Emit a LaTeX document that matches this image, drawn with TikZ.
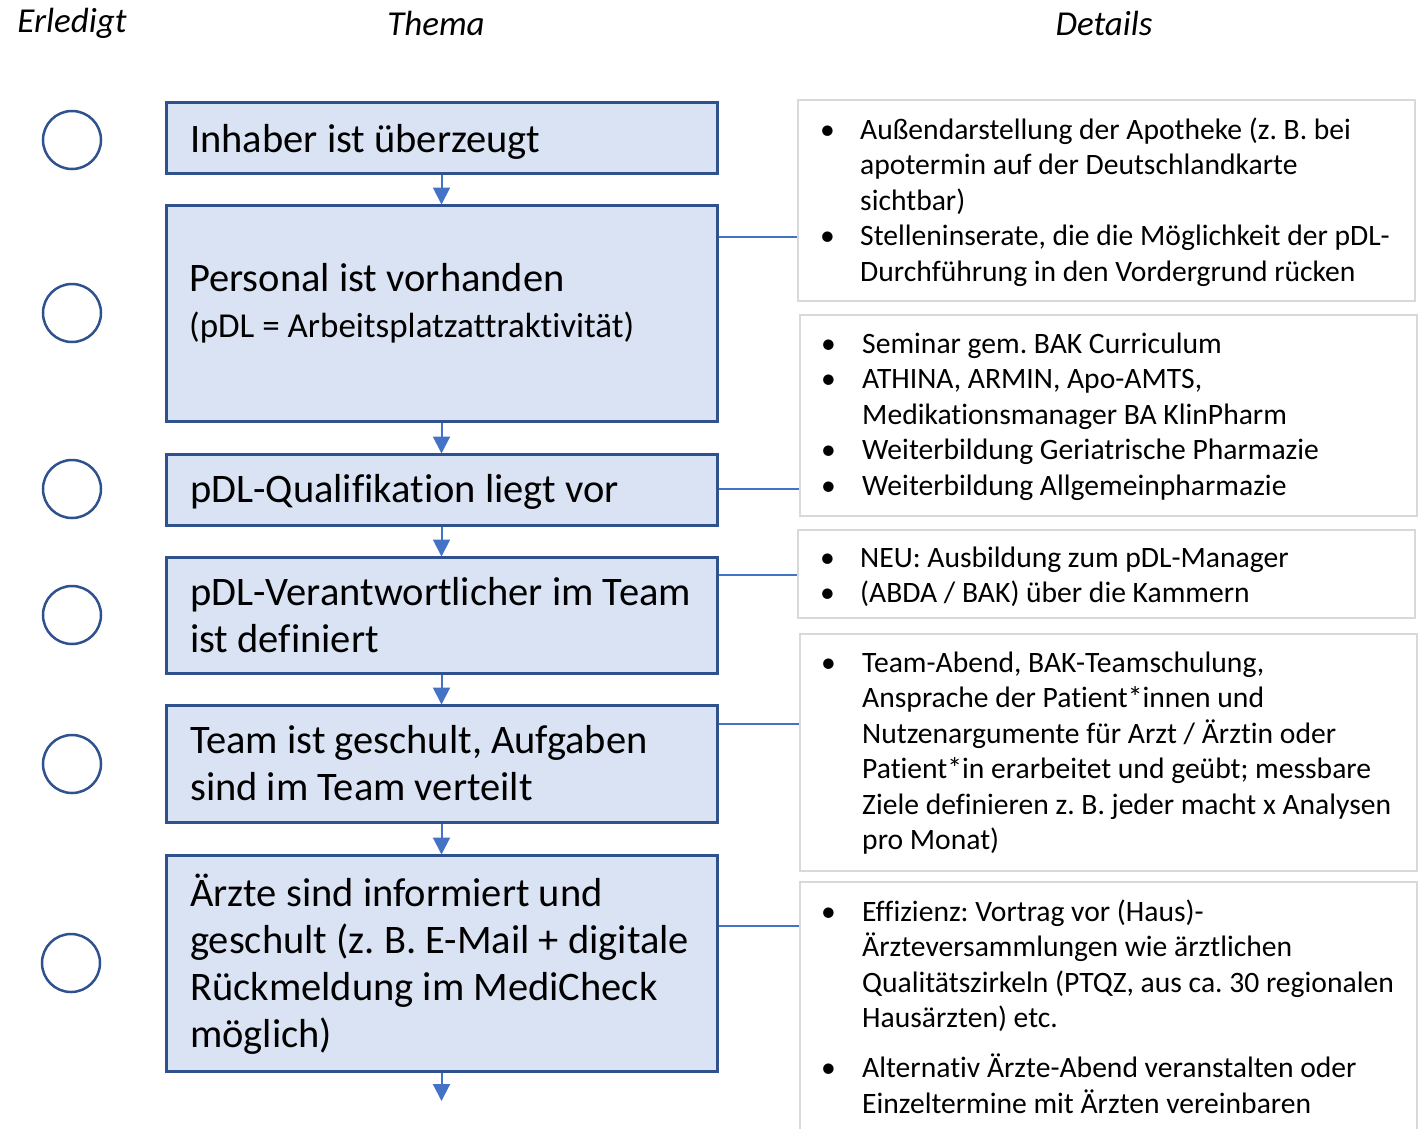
\documentclass[tikz,border=0pt]{standalone}
\usepackage{fontspec}
\setmainfont{Carlito}[Ligatures=NoCommon]
\usetikzlibrary{arrows.meta}
\definecolor{boxfill}{HTML}{DAE3F3}
\definecolor{boxline}{HTML}{2F528F}
\definecolor{arrblue}{HTML}{4472C4}
\definecolor{detline}{HTML}{D9D9D9}
\newcommand{\bl}{\textbullet}
\frenchspacing
\begin{document}
\begin{tikzpicture}[x=1pt,y=-1pt,
  mainbox/.style={draw=boxline, fill=boxfill, line width=3pt, inner sep=0pt},
  detbox/.style={draw=detline, fill=white, line width=2pt, inner sep=0pt},
  chk/.style={draw=boxline, line width=2.5pt, circle, minimum size=58pt, inner sep=0pt},
  arr/.style={draw=arrblue, line width=2pt, -{Triangle[length=17pt,width=17pt]}, shorten >=-1pt},
  conn/.style={draw=arrblue, line width=1.6pt},
  head/.style={font=\fontsize{35}{42}\selectfont\itshape, inner sep=0pt},
  maintxt/.style={font=\fontsize{40.5}{47}\selectfont, align=left, anchor=base west, inner sep=0pt},
  subtxt/.style={font=\fontsize{35}{42}\selectfont, align=left, anchor=base west, inner sep=0pt},
  dettxt/.style={font=\fontsize{29.6}{35.5}\selectfont, anchor=base west, inner sep=0pt}
]
\useasboundingbox (0,0) rectangle (1421,1128);
\clip (0,0) rectangle (1421,1128);

% headers
\node[head] (h1) at (72,23) {Erledigt};
\node[head] (h2) at (436,23) {Thema};
\node[head] (h3) at (1104,23) {Details};

% main boxes
\node[mainbox, minimum width=551pt, minimum height=71pt] (b1) at (441.5,137.5) {};
\node[mainbox, minimum width=551pt, minimum height=216pt] (b2) at (441.5,313) {};
\node[mainbox, minimum width=551pt, minimum height=71pt] (b3) at (441.5,489.5) {};
\node[mainbox, minimum width=551pt, minimum height=116pt] (b4) at (441.5,615) {};
\node[mainbox, minimum width=551pt, minimum height=117pt] (b5) at (441.5,763.5) {};
\node[mainbox, minimum width=551pt, minimum height=216pt] (b6) at (441.5,963) {};

\node[maintxt] (t1) at (190,152) {Inhaber ist überzeugt};
\node[maintxt] (t2) at (189,291) {Personal ist vorhanden};
\node[subtxt] (t2b) at (189,337) {(pDL = Arbeitsplatzattraktivität)};
\node[maintxt] (t3) at (190,502) {pDL-Qualifikation liegt vor};
\node[maintxt] (t4) at (190,652) {pDL-Verantwortlicher im Team\\ist definiert};
\node[maintxt] (t5) at (190,800) {Team ist geschult, Aufgaben\\sind im Team verteilt};
\node[maintxt] (t6) at (190,1047) {Ärzte sind informiert und\\geschult (z. B. E-Mail + digitale\\Rückmeldung im MediCheck\\möglich)};

% check circles
\node[chk] (c1) at (72,140) {};
\node[chk] (c2) at (72,313) {};
\node[chk] (c3) at (72,489) {};
\node[chk] (c4) at (72,615) {};
\node[chk] (c5) at (72,764) {};
\node[chk] (c6) at (71,963) {};

% arrows
\draw[arr] (b1.south) -- (b2.north);
\draw[arr] (b2.south) -- (b3.north);
\draw[arr] (b3.south) -- (b4.north);
\draw[arr] (b4.south) -- (b5.north);
\draw[arr] (b5.south) -- (b6.north);
\coordinate (endpt) at (441.5,1100);
\draw[arr] (b6.south) -- (endpt);

% detail boxes
\node[detbox, minimum width=617pt, minimum height=201pt] (d1) at (1106.5,200.5) {};
\node[detbox, minimum width=617pt, minimum height=201pt] (d2) at (1108.5,415.5) {};
\node[detbox, minimum width=617pt, minimum height=88pt] (d3) at (1106.5,574) {};
\node[detbox, minimum width=617pt, minimum height=237pt] (d4) at (1108.5,752.5) {};
\node[detbox, minimum width=617pt, minimum height=260pt] (d5) at (1108.5,1012) {};

\node[dettxt] (x1) at (820,139) {\begin{tabular}[t]{@{}p{40pt}@{}l@{}}
\bl & Außendarstellung der Apotheke (z. B. bei\\
 & apotermin auf der Deutschlandkarte\\
 & sichtbar)\\
\bl & Stelleninserate, die die Möglichkeit der pDL-\\
 & Durchführung in den Vordergrund rücken
\end{tabular}};
\node[dettxt] (x2) at (821,353) {\begin{tabular}[t]{@{}p{41pt}@{}l@{}}
\bl & Seminar gem. BAK Curriculum\\
\bl & ATHINA, ARMIN, Apo-AMTS,\\
 & Medikationsmanager BA KlinPharm\\
\bl & Weiterbildung Geriatrische Pharmazie\\
\bl & Weiterbildung Allgemeinpharmazie
\end{tabular}};
\node[dettxt] (x3) at (820,567) {\begin{tabular}[t]{@{}p{40pt}@{}l@{}}
\bl & NEU: Ausbildung zum pDL-Manager\\
\bl & (ABDA / BAK) über die Kammern
\end{tabular}};
\node[dettxt] (x4) at (821,672) {\begin{tabular}[t]{@{}p{41pt}@{}l@{}}
\bl & Team-Abend, BAK-Teamschulung,\\
 & Ansprache der Patient*innen und\\
 & Nutzenargumente für Arzt / Ärztin oder\\
 & Patient*in erarbeitet und geübt; messbare\\
 & Ziele definieren z. B. jeder macht x Analysen\\
 & pro Monat)
\end{tabular}};
\node[dettxt] (x5) at (821,921) {\begin{tabular}[t]{@{}p{41pt}@{}l@{}}
\bl & Effizienz: Vortrag vor (Haus)-\\
 & Ärzteversammlungen wie ärztlichen\\
 & Qualitätszirkeln (PTQZ, aus ca. 30 regionalen\\
 & Hausärzten) etc.\\[14.5pt]
\bl & Alternativ Ärzte-Abend veranstalten oder\\
 & Einzeltermine mit Ärzten vereinbaren
\end{tabular}};

% connectors
\coordinate (k1) at (0,237);
\coordinate (k2) at (0,489);
\coordinate (k3) at (0,575);
\coordinate (k4) at (0,724);
\coordinate (k5) at (0,926);
\draw[conn] (b2.east |- k1) -- (d1.west |- k1);
\draw[conn] (b3.east |- k2) -- (d2.west |- k2);
\draw[conn] (b4.east |- k3) -- (d3.west |- k3);
\draw[conn] (b5.east |- k4) -- (d4.west |- k4);
\draw[conn] (b6.east |- k5) -- (d5.west |- k5);
\end{tikzpicture}
\end{document}
